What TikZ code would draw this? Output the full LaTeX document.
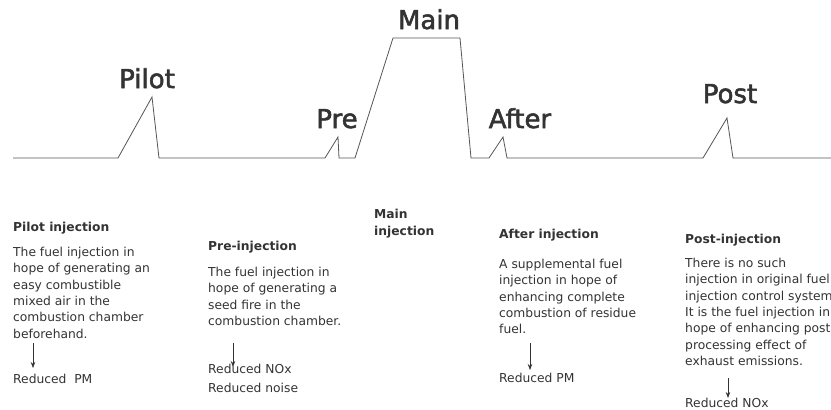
\documentclass[tikz,border=0pt]{standalone}
\usepackage{fontspec}
\setmainfont{DejaVu Sans}
\newfontfamily\pulsefont[FakeBold=2]{DejaVu Sans}
\usetikzlibrary{arrows.meta}
\definecolor{ink}{HTML}{333333}
\definecolor{wavec}{HTML}{555555}
\begin{document}
\begin{tikzpicture}[x=1pt,y=-1pt,
  big/.style={font=\pulsefont\fontsize{26}{30}\selectfont, text=ink, inner sep=0pt, anchor=base},
  head/.style={font=\fontsize{12.3}{16.4}\selectfont\bfseries, text=ink, inner sep=0pt, anchor=base west},
  mainhead/.style={font=\fontsize{12.3}{17}\selectfont\bfseries, text=ink, inner sep=0pt, anchor=north west, align=left},
  body/.style={font=\fontsize{12.3}{16.4}\selectfont, text=ink, inner sep=0pt, anchor=north west, align=left},
  result/.style={font=\fontsize{12.3}{19}\selectfont, text=ink, inner sep=0pt, anchor=north west, align=left},
  wave/.style={draw=wavec, line width=0.8pt, line join=miter},
  effect/.style={-{Stealth[length=6pt,width=4.5pt]}, draw=ink, line width=0.7pt}
]
\useasboundingbox[fill=white] (0,0) rectangle (831,410);

% injection waveform
\draw[wave] (13,158) -- (118,158) -- (152,97) -- (159,158) -- (325,158) -- (338,137) -- (339,158)
  -- (355,158) -- (393,38) -- (460,38) -- (471,158) -- (489,158) -- (503,137) -- (507,158)
  -- (703,158) -- (727,118) -- (733,158) -- (831,158);

% pulse labels
\node[big] (lpilot) at (147,88) {Pilot};
\node[big] (lpre) at (337,128) {Pre};
\node[big] (lmain) at (429,29) {Main};
\node[big] (lafter) at (520,128) {After};
\node[big] (lpost) at (730,103) {Post};

% Pilot
\node[head] (hpilot) at (13,231) {Pilot injection};
\node[body] (bpilot) at (13,246.7) {The fuel injection in\\hope of generating an\\easy combustible\\mixed air in the\\combustion chamber\\beforehand.};
\node[result] (rpilot) at (13,374) {Reduced\ \ PM};
\coordinate (pilotA) at (33,343);
\coordinate (pilotB) at (33,368);
\draw[effect] (pilotA) -- (pilotB);

% Pre
\node[head] (hpre) at (208,250) {Pre-injection};
\node[body] (bpre) at (208,266.7) {The fuel injection in\\hope of generating a\\seed fire in the\\combustion chamber.};
\node[result] (rpre) at (208,364) {Reduced NOx\\Reduced noise};
\coordinate (preA) at (233,343);
\coordinate (preB) at (233,367);
\draw[effect] (preA) -- (preB);

% Main
\node[mainhead] (hmain) at (374,208.7) {Main\\injection};

% After
\node[head] (hafter) at (499,238) {After injection};
\node[body] (bafter) at (499,258.7) {A supplemental fuel\\injection in hope of\\enhancing complete\\combustion of residue\\fuel.};
\node[result] (rafter) at (499,373) {Reduced PM};
\coordinate (afterA) at (530,343);
\coordinate (afterB) at (530,370);
\draw[effect] (afterA) -- (afterB);

% Post
\node[head] (hpost) at (685,243) {Post-injection};
\node[body] (bpost) at (685,257.7) {There is no such\\injection in original fuel\\injection control system\\It is the fuel injection in\\hope of enhancing post\\processing effect of\\exhaust emissions.};
\node[result] (rpost) at (685,398) {Reduced NOx};
\coordinate (postA) at (728,378);
\coordinate (postB) at (728,398);
\draw[effect] (postA) -- (postB);
\end{tikzpicture}
\end{document}
